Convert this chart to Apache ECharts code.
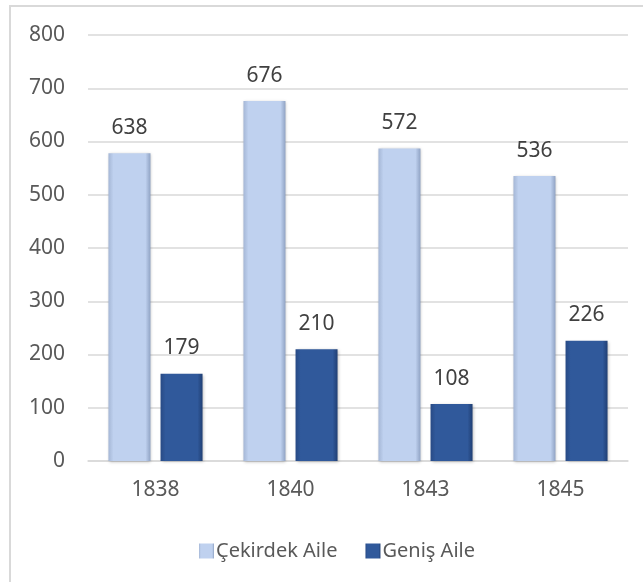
<!DOCTYPE html>
<html><head><meta charset="utf-8">
<script src="https://cdn.jsdelivr.net/npm/echarts@6/dist/echarts.min.js"></script>
<style>html,body{margin:0;padding:0;background:#fff}#c{width:643px;height:582px}</style>
</head><body><div id="c"></div>
<script>
const categories = ['1838', '1840', '1843', '1845'];
const seriesNames = ['Çekirdek Aile', 'Geniş Aile'];
// bar heights as drawn in the picture
const cekirdekBars = [578, 676, 587, 535];
const genisBars = [164, 210, 107, 226];
// data labels as printed in the picture
const cekirdekLabels = [638, 676, 572, 536];
const genisLabels = [179, 210, 108, 226];
const yTicks = [0, 100, 200, 300, 400, 500, 600, 700, 800];

const FONT = 'Noto Sans';
function grad(edgeL, mid, edgeR) {
  return new echarts.graphic.LinearGradient(0, 0, 1, 0, [
    {offset: 0, color: edgeL}, {offset: 0.12, color: mid},
    {offset: 0.88, color: mid}, {offset: 1, color: edgeR}
  ]);
}
const lightColor = grad('#a5b7d6', '#bfd1ef', '#90a3c4');
const darkColor = grad('#284a85', '#30599b', '#203f74');

const chart = echarts.init(document.getElementById('c'));
chart.setOption({
  animation: false,
  graphic: [{
    type: 'rect', shape: {x: 10, y: 6, width: 700, height: 700},
    style: {fill: 'none', stroke: '#d9d9d9', lineWidth: 2}, z: -1
  }],
  grid: {left: 88, right: 15, top: 35, bottom: 121},
  legend: {
    top: 536, left: 194, itemWidth: 15, itemHeight: 15, itemGap: 28,
    textStyle: {fontFamily: FONT, fontSize: 20, color: '#595959', padding: [0, 0, 0, -3]},
    icon: 'rect', data: seriesNames
  },
  xAxis: {
    type: 'category', data: categories,
    axisLine: {lineStyle: {color: '#d9d9d9', width: 1.5}},
    axisTick: {show: false},
    axisLabel: {fontFamily: FONT, fontSize: 21, color: '#595959', margin: 19}
  },
  yAxis: {
    type: 'value', min: yTicks[0], max: yTicks[yTicks.length - 1], interval: 100,
    axisLine: {show: false}, axisTick: {show: false},
    splitLine: {lineStyle: {color: '#d9d9d9', width: 1.5}},
    axisLabel: {fontFamily: FONT, fontSize: 21, color: '#595959', margin: 23}
  },
  series: [
    {
      name: seriesNames[0], type: 'bar', barWidth: 42, barGap: '24%',
      data: cekirdekBars,
      itemStyle: {color: lightColor, shadowColor: 'rgba(0,0,0,0.25)', shadowBlur: 3, shadowOffsetX: 1, shadowOffsetY: 1},
      label: {show: true, position: 'top', distance: 15, fontFamily: FONT, fontSize: 21, color: '#404040',
        formatter: p => cekirdekLabels[p.dataIndex]}
    },
    {
      name: seriesNames[1], type: 'bar', barWidth: 42,
      data: genisBars,
      itemStyle: {color: darkColor, shadowColor: 'rgba(0,0,0,0.25)', shadowBlur: 3, shadowOffsetX: 1, shadowOffsetY: 1},
      label: {show: true, position: 'top', distance: 15, fontFamily: FONT, fontSize: 21, color: '#404040',
        formatter: p => genisLabels[p.dataIndex]}
    }
  ]
});
</script></body></html>
